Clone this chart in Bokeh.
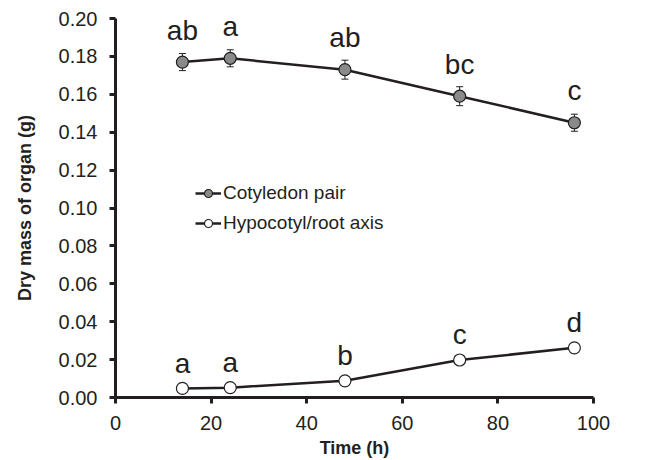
from bokeh.plotting import figure
from bokeh.models import Range1d, Whisker, ColumnDataSource, Legend, LegendItem, FixedTicker, NumeralTickFormatter
from bokeh.core.properties import value
from bokeh.embed import file_html
from bokeh.resources import INLINE

time_h = [14, 24, 48, 72, 96]
cotyledon = [0.177, 0.179, 0.173, 0.159, 0.145]
cotyledon_err = [0.0045, 0.0045, 0.0050, 0.0050, 0.0045]
cotyledon_letters = ["ab", "a", "ab", "bc", "c"]
hypocotyl = [0.0048, 0.0052, 0.0088, 0.0198, 0.0262]
hypocotyl_err = [0.0005, 0.0005, 0.0006, 0.0008, 0.0008]
hypocotyl_letters = ["a", "a", "b", "c", "d"]
x_ticks = [0, 20, 40, 60, 80, 100]
y_ticks = [0.00, 0.02, 0.04, 0.06, 0.08, 0.10, 0.12, 0.14, 0.16, 0.18, 0.20]

FONT = "Liberation Sans"
INK = "#231f20"

p = figure(width=662, height=460, output_backend="svg", toolbar_location=None,
           x_range=Range1d(0, 100), y_range=Range1d(0, 0.2),
           min_border_left=115, min_border_right=69, min_border_top=18, min_border_bottom=63)
p.grid.visible = False
p.outline_line_color = None
p.background_fill_color = "white"

for ax in (p.xaxis[0], p.yaxis[0]):
    ax.axis_line_width = 3
    ax.axis_line_color = INK
    ax.major_tick_line_width = 3
    ax.major_tick_line_color = INK
    ax.major_tick_out = 6
    ax.major_tick_in = 0
    ax.minor_tick_line_color = None
    ax.major_label_text_font = FONT
    ax.major_label_text_font_size = "20px"
    ax.major_label_text_color = INK
    ax.axis_label_text_font = FONT
    ax.axis_label_text_font_size = "18px"
    ax.axis_label_text_font_style = "bold"
    ax.axis_label_text_color = INK

p.xaxis.ticker = FixedTicker(ticks=x_ticks)
p.yaxis.ticker = FixedTicker(ticks=y_ticks)
p.yaxis.formatter = NumeralTickFormatter(format="0.00")
p.xaxis.axis_label = "Time (h)"
p.yaxis.axis_label = "Dry mass of organ (g)"
p.xaxis.major_label_standoff = 12
p.yaxis.major_label_standoff = 12
p.xaxis.axis_label_standoff = 5
p.yaxis.axis_label_standoff = 21

src_c = ColumnDataSource(dict(x=time_h, y=cotyledon, lo=[v - e for v, e in zip(cotyledon, cotyledon_err)],
                              hi=[v + e for v, e in zip(cotyledon, cotyledon_err)], t=cotyledon_letters))
src_h = ColumnDataSource(dict(x=time_h, y=hypocotyl, lo=[v - e for v, e in zip(hypocotyl, hypocotyl_err)],
                              hi=[v + e for v, e in zip(hypocotyl, hypocotyl_err)], t=hypocotyl_letters))

for src in (src_c, src_h):
    w = Whisker(source=src, base="x", lower="lo", upper="hi", line_color=INK, line_width=1)
    w.upper_head.size = 7
    w.lower_head.size = 7
    w.upper_head.line_color = INK
    w.lower_head.line_color = INK
    w.upper_head.line_width = 1
    w.lower_head.line_width = 1
    p.add_layout(w)

lc = p.line("x", "y", source=src_c, line_color=INK, line_width=2.5)
sc = p.scatter("x", "y", source=src_c, size=12, fill_color="#8a8a8a", line_color=INK, line_width=1.2)
lh = p.line("x", "y", source=src_h, line_color=INK, line_width=2.5)
sh = p.scatter("x", "y", source=src_h, size=12, fill_color="white", line_color=INK, line_width=1.2)

p.text("x", "y", text="t", source=src_c, text_font=value(FONT), text_font_size="28px",
       text_align="center", text_baseline="alphabetic", y_offset=-32, text_color=INK)
p.text("x", "y", text="t", source=src_h, text_font=value(FONT), text_font_size="28px",
       text_align="center", text_baseline="alphabetic", y_offset=-25, text_color=INK)

legend = Legend(items=[LegendItem(label="Cotyledon pair", renderers=[lc, sc]),
                       LegendItem(label="Hypocotyl/root axis", renderers=[lh, sh])],
                location=(80, 163), glyph_width=26, glyph_height=20, label_standoff=2, spacing=8,
                padding=0, margin=0, border_line_color=None, background_fill_alpha=0,
                label_text_font=FONT, label_text_font_size="19px", label_text_color=INK)
p.add_layout(legend, "center")

open("out.html", "w").write(file_html(p, INLINE))
